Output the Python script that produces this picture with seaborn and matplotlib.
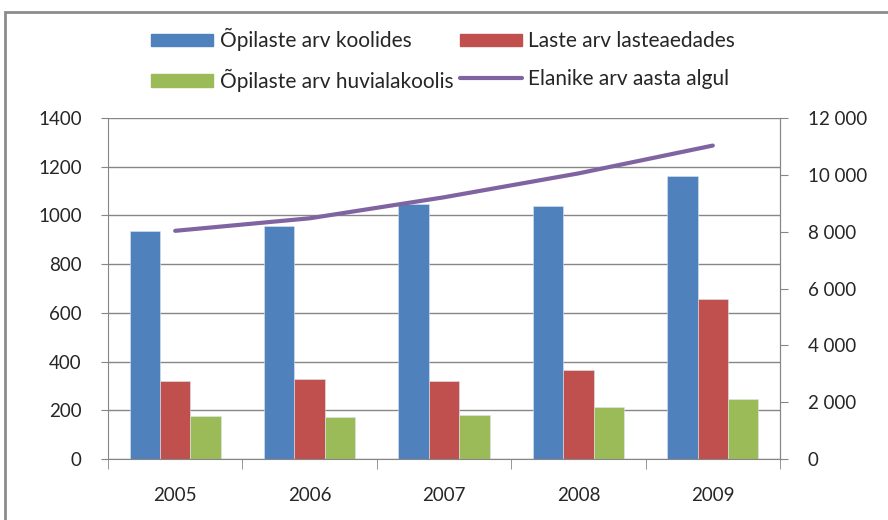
import numpy as np
import pandas as pd
import seaborn as sns
import matplotlib.pyplot as plt
from matplotlib.patches import Rectangle
from matplotlib.lines import Line2D
from matplotlib.ticker import FuncFormatter

years = ["2005", "2006", "2007", "2008", "2009"]
koolid = [935, 955, 1047, 1037, 1160]        # Õpilaste arv koolides
lasteaiad = [322, 327, 321, 365, 657]        # Laste arv lasteaedades
huvikoolid = [176, 172, 180, 215, 246]       # Õpilaste arv huvialakoolis
elanikud = [8030, 8470, 9210, 10050, 11030]  # Elanike arv aasta algul

lbl_k = "Õpilaste arv koolides"
lbl_l = "Laste arv lasteaedades"
lbl_h = "Õpilaste arv huvialakoolis"
lbl_e = "Elanike arv aasta algul"

df = pd.DataFrame({
    "aasta": years * 3,
    "arv": koolid + lasteaiad + huvikoolid,
    "seeria": [lbl_k] * 5 + [lbl_l] * 5 + [lbl_h] * 5,
})

sns.set_style("white")
plt.rcParams["font.family"] = ["Lato", "DejaVu Sans"]
grey = "#868686"
colors = ["#4F81BD", "#C0504D", "#9BBB59"]
purple = "#8064A2"

fig = plt.figure(figsize=(8.88, 5.2), dpi=100)
ax = fig.add_axes([108 / 888, 1 - 459 / 520, 672 / 888, 341 / 520])

sns.barplot(data=df, x="aasta", y="arv", hue="seeria", palette=colors, saturation=1,
            width=0.68, ax=ax, legend=False, edgecolor="#dde6f0", linewidth=0.4)
ax.set_xlim(-0.5, 4.5)
ax.set_ylim(0, 1400)
ax.set_yticks(range(0, 1401, 200))
ax.yaxis.grid(True, color=grey, linewidth=1)
ax.set_axisbelow(True)
ax.set_xlabel("")
ax.set_ylabel("")
ax.spines["top"].set_visible(False)
for s in ["left", "bottom", "right"]:
    ax.spines[s].set_color(grey)
ax.tick_params(axis="y", left=True, length=5, color=grey, pad=14, labelsize=13.5)
ax.tick_params(axis="x", which="major", length=0, pad=20, labelsize=13.5)
ax.set_xticks(np.arange(-0.5, 5, 1), minor=True)
ax.tick_params(axis="x", which="minor", bottom=True, length=7, color=grey)

ax2 = ax.twinx()
sns.lineplot(x=np.arange(5), y=elanikud, ax=ax2, color=purple, linewidth=3)
ax2.set_ylim(0, 12000)
ax2.set_yticks(range(0, 12001, 2000))
ax2.yaxis.set_major_formatter(FuncFormatter(lambda v, p: f"{int(v):,}".replace(",", " ")))
ax2.tick_params(axis="y", right=True, length=6, color=grey, pad=14, labelsize=13.5)
for s in ["top", "left", "bottom"]:
    ax2.spines[s].set_visible(False)
ax2.spines["right"].set_color(grey)
ax2.set_ylabel("")

handles = [
    Rectangle((0, 0), 1, 1, color=colors[0]),
    Rectangle((0, 0), 1, 1, color=colors[2]),
    Rectangle((0, 0), 1, 1, color=colors[1]),
    Line2D([], [], color=purple, linewidth=3),
]
labels = [lbl_k, lbl_h, lbl_l, lbl_e]
fig.legend(handles, labels, ncol=2, loc="center", bbox_to_anchor=(443 / 888, 1 - 60 / 520),
           frameon=False, fontsize=15, handlelength=3.0, handleheight=0.55,
           handletextpad=0.3, columnspacing=0.3, labelspacing=0.85)

fig.patches.append(Rectangle((5 / 888, -0.1), 1.2, 1.1 - 12 / 520,
                             transform=fig.transFigure, fill=False,
                             edgecolor="#8c8c8c", linewidth=2))

fig.savefig("out.png", dpi=100)
